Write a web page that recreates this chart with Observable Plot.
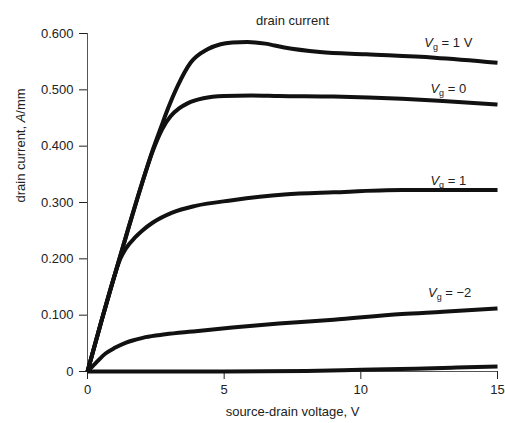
<!DOCTYPE html>
<html>
<head>
<meta charset="utf-8">
<script src="https://cdn.jsdelivr.net/npm/d3@7"></script>
<script src="https://cdn.jsdelivr.net/npm/@observablehq/plot@0.6"></script>
<style>
  html, body { margin: 0; padding: 0; background: #fff; }
  #chart svg { display: block; font-family: "Liberation Sans", Arial, sans-serif; }
</style>
</head>
<body>
<div id="chart"></div>
<script>
// ---- data ----
const title = "drain current";
const xLabel = "source-drain voltage, V";
const yLabel = "drain current, A/mm";
const xTicks = [0, 5, 10, 15];
const yTicks = [0, 0.1, 0.2, 0.3, 0.4, 0.5, 0.6];

// [source-drain voltage V, drain current A/mm]
const curveVg1V = [[0,0],[0.5,0.088],[1,0.172],[1.5,0.255],[2,0.335],[2.4,0.395],[2.7,0.435],[2.93,0.465],[3.3,0.507],[3.77,0.548],[4.39,0.572],[4.87,0.581],[5.3,0.584],[5.85,0.585],[6.5,0.582],[7.2,0.575],[8.5,0.567],[10.2,0.563],[12.7,0.557],[15,0.548]];
const curveVg0 = [[0,0],[0.5,0.088],[1,0.172],[1.5,0.255],[2,0.335],[2.4,0.393],[2.74,0.431],[3.04,0.453],[3.35,0.467],[3.66,0.476],[4.24,0.485],[5,0.489],[6,0.49],[7,0.489],[9,0.488],[11.5,0.484],[13,0.48],[15,0.474]];
const curveVgPlus1 = [[0,0],[0.5,0.088],[1,0.172],[1.2,0.2],[1.4,0.218],[1.76,0.239],[2,0.25],[2.38,0.264],[3.1,0.282],[3.95,0.294],[5.3,0.304],[7.2,0.314],[9,0.318],[11.5,0.322],[13,0.322],[15,0.322]];
const curveVgMinus2 = [[0,0],[0.3,0.015],[0.66,0.032],[1,0.042],[1.39,0.051],[1.8,0.057],[2.12,0.061],[2.85,0.066],[3.84,0.071],[5.3,0.078],[7,0.085],[9,0.092],[11.5,0.102],[13,0.106],[15,0.112]];
const curveOff = [[0,0],[5,0],[8,0.001],[10,0.003],[12,0.005],[13.5,0.007],[15,0.009]];

const seriesNames = ["Vg = 1 V", "Vg = 0", "Vg = 1", "Vg = −2", "off"];
const seriesCurves = [curveVg1V, curveVg0, curveVgPlus1, curveVgMinus2, curveOff];

const labelTexts = ["Vg = 1 V", "Vg = 0", "Vg = 1", "Vg = −2"];
const labelX = [13.2, 13.2, 13.2, 13.25];
const labelY = [0.583, 0.501, 0.339, 0.139];

// ---- build tables ----
const lines = seriesNames.flatMap((s, k) => seriesCurves[k].map(([v, i]) => ({series: s, v, i})));
const labels = labelTexts.map((t, k) => ({t, x: labelX[k], y: labelY[k]}));

const fs = 13;
const plot = Plot.plot({
  width: 505,
  height: 423,
  marginLeft: 87,
  marginRight: 8,
  marginTop: 33,
  marginBottom: 52,
  style: {fontSize: fs + "px", fontFamily: '"Liberation Sans", Arial, sans-serif', color: "#222", background: "#fff"},
  x: {domain: [0, 15], ticks: xTicks, tickSize: 8, tickPadding: 5, label: null, tickFormat: d => String(d)},
  y: {domain: [0, 0.6], ticks: yTicks, tickSize: 8, tickPadding: 6, label: null, tickFormat: d => d === 0 ? "0" : d.toFixed(3)},
  marks: [
    Plot.ruleX([0], {y1: 0, y2: 0.6, stroke: "#555", strokeWidth: 1}),
    Plot.ruleY([0], {x1: 0, x2: 15, stroke: "#555", strokeWidth: 1}),
    Plot.line(lines, {x: "v", y: "i", z: "series", stroke: "#111", strokeWidth: 4, curve: "monotone-x", strokeLinejoin: "round", strokeLinecap: "butt"}),
    Plot.text(labels, {x: "x", y: "y", text: "t", textAnchor: "middle", fill: "#222"}),
    Plot.text([title], {frameAnchor: "top", dy: -18, fill: "#222"}),
    Plot.text([xLabel], {frameAnchor: "bottom", dy: 44, fill: "#222"}),
    Plot.text([yLabel], {frameAnchor: "left", dx: -67, rotate: -90, fill: "#222"})
  ]
});

// subscripts / italics for labels
d3.select(plot).selectAll("text").each(function() {
  const txt = this.textContent;
  const sel = d3.select(this);
  if (labelTexts.includes(txt)) {
    const rest = txt.replace(/^Vg/, "");
    sel.text(null);
    sel.append("tspan").attr("font-style", "italic").text("V");
    sel.append("tspan").attr("font-size", "9px").attr("dy", "3").text("g");
    sel.append("tspan").attr("dy", "-3").text(rest);
  } else if (txt === yLabel) {
    sel.text(null);
    sel.append("tspan").text("drain current, ");
    sel.append("tspan").attr("font-style", "italic").text("A");
    sel.append("tspan").text("/mm");
  }
});

document.getElementById("chart").appendChild(plot);
</script>
</body>
</html>
